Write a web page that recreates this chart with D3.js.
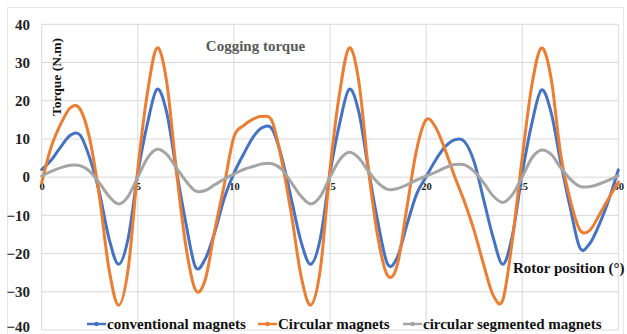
<!DOCTYPE html>
<html>
<head>
<meta charset="utf-8">
<script src="https://cdn.jsdelivr.net/npm/d3@7"></script>
<style>
  html, body { margin: 0; padding: 0; background: #fff; }
  svg { display: block; }
  svg text { font-family: "Liberation Serif", "Times New Roman", serif !important; font-weight: bold; }
</style>
</head>
<body>
<svg id="chart" width="627" height="334"></svg>
<script>
// Rotor position samples (degrees), every 0.5°
const positions = d3.range(0, 30.001, 0.5);

const conventional = [
  2, 4.5, 8, 11, 11, 5, -4, -16, -22.8, -16,
  1, 14, 23, 17, 2, -12, -23.5, -21.5, -14.5, -5.5,
  1, 6, 10.5, 13, 12.5, 5, -6, -17, -22.8, -16,
  1, 14, 23, 17, 2, -12, -22.8, -21, -12.5, -4.5,
  0.1, 4.5, 8, 9.8, 9.3, 4, -6, -16, -22.8, -15,
  1, 14, 22.8, 17, 4, -8, -18.5, -17.5, -12.5, -6,
  1.9
];

const circular = [
  -1.5, 8, 14, 18.2, 17.8, 10, -5, -24, -33.5, -24,
  2, 22, 33.8, 25, 2, -18, -29.5, -27, -14, -2,
  10.5, 13.5, 15.2, 15.9, 14.5, 4, -10, -26, -33.5, -24,
  2, 22, 33.8, 25, 2, -16, -25.8, -23, -8, 7,
  15, 13, 7, 0, -6.5, -14, -23, -31, -32, -16,
  5, 24, 33.8, 26, 6, -6, -13.8, -14, -10, -5.5,
  -1.3
];

const segmented = [
  0.3, 1.5, 2.5, 3.1, 3.0, 1.5, -1.5, -5, -7, -5,
  0, 5, 7.3, 6, 2.5, -1, -3.6, -3.5, -2, -0.5,
  0.8, 2, 2.8, 3.5, 3.5, 2, -1.5, -5, -7, -5,
  0, 4.5, 6.5, 5, 1.5, -1.5, -3.2, -3, -2, -0.8,
  0.3, 1.3, 2.5, 3.3, 3.2, 1.5, -1.5, -5, -6.6, -4.5,
  0, 5, 7.1, 6, 2.5, -0.5, -2.4, -2.5, -1.8, -0.8,
  0.4
];

const seriesNames = ["conventional magnets", "Circular magnets", "circular segmented magnets"];
const seriesColors = ["#4472C4", "#ED7D31", "#A5A5A5"];
const xTicks = [0, 5, 10, 15, 20, 25, 30];
const yTicks = [-40, -30, -20, -10, 0, 10, 20, 30, 40];

const svg = d3.select("#chart");
const plot = { left: 41.7, right: 618.3, top: 24.3, bottom: 330 };

const x = d3.scaleLinear().domain([0, 30]).range([plot.left, plot.right]);
const y = d3.scaleLinear().domain([-40, 40]).range([plot.bottom, plot.top]);

// outer chart frame
svg.append("rect")
  .attr("x", 7.5).attr("y", 7.5).attr("width", 616).attr("height", 340)
  .attr("fill", "none").attr("stroke", "#e6e6e6").attr("stroke-width", 1);

// gridlines
svg.append("g")
  .selectAll("line").data(yTicks).join("line")
  .attr("x1", plot.left).attr("x2", plot.right)
  .attr("y1", d => y(d)).attr("y2", d => y(d))
  .attr("stroke", "#d9d9d9").attr("stroke-width", 1);
svg.append("g")
  .selectAll("line").data(xTicks).join("line")
  .attr("x1", d => x(d)).attr("x2", d => x(d))
  .attr("y1", plot.top).attr("y2", plot.bottom)
  .attr("stroke", "#d9d9d9").attr("stroke-width", 1);

// y axis tick labels (the bottom one nudged up to stay on the canvas)
const yAxis = d3.axisLeft(y).tickValues(yTicks).tickSize(0).tickPadding(0);
const gy = svg.append("g").attr("transform", "translate(30,0)").call(yAxis);
gy.attr("font-family", null);
gy.select(".domain").remove();
gy.selectAll("text")
  .attr("font-size", 15).attr("fill", "#222")
  .attr("dy", d => d === -40 ? "0.08em" : "0.32em");

// x axis tick labels sit just under the zero line
const xAxis = d3.axisBottom(x).tickValues(xTicks).tickSize(0).tickPadding(0);
const gx = svg.append("g").attr("transform", `translate(0,${y(0) + 5})`).call(xAxis);
gx.attr("font-family", null);
gx.select(".domain").remove();
gx.selectAll("text")
  .attr("font-size", 10.5).attr("fill", "#222");

// series lines
const line = d3.line()
  .x((d, i) => x(positions[i]))
  .y(d => y(d))
  .curve(d3.curveCardinal.tension(0));

[conventional, circular, segmented].forEach((vals, k) => {
  svg.append("path")
    .datum(vals)
    .attr("d", line)
    .attr("fill", "none")
    .attr("stroke", seriesColors[k])
    .attr("stroke-width", 3)
    .attr("stroke-linejoin", "round")
    .attr("stroke-linecap", "round");
});

// title and axis titles
svg.append("text")
  .attr("x", 255.5).attr("y", 51)
  .attr("text-anchor", "middle")
  .attr("font-size", 15).attr("fill", "#595959")
  .text("Cogging torque");

svg.append("text")
  .attr("transform", "translate(61,77) rotate(-90)")
  .attr("text-anchor", "middle")
  .attr("font-size", 13.5).attr("fill", "#111")
  .text("Torque (N.m)");

svg.append("text")
  .attr("x", 513).attr("y", 273)
  .attr("font-size", 15).attr("fill", "#111")
  .text("Rotor position (°)");

// legend
const legendX = [87, 258, 403];
const legend = svg.append("g");
seriesNames.forEach((name, k) => {
  const g = legend.append("g").attr("transform", `translate(${legendX[k]},324)`);
  g.append("line")
    .attr("x1", 0).attr("x2", 19).attr("y1", 0).attr("y2", 0)
    .attr("stroke", seriesColors[k]).attr("stroke-width", 2.5);
  g.append("circle")
    .attr("cx", 9.5).attr("cy", 0).attr("r", 2.2)
    .attr("fill", seriesColors[k]);
  g.append("text")
    .attr("x", 20).attr("y", 4.5)
    .attr("font-size", 15).attr("fill", "#111")
    .text(name);
});
</script>
</body>
</html>
